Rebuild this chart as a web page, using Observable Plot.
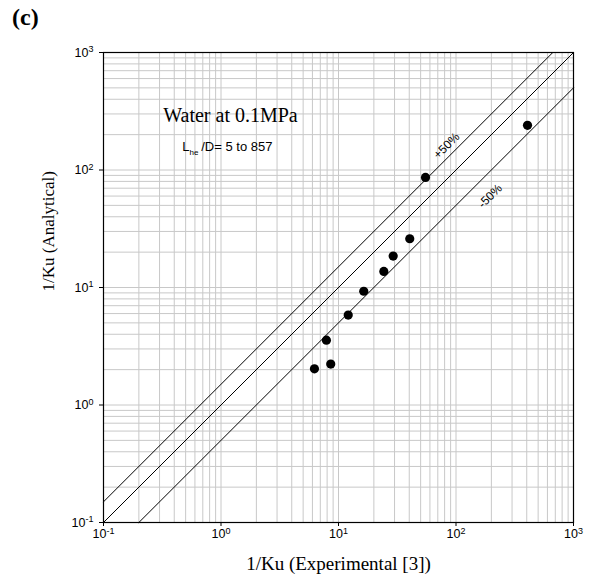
<!DOCTYPE html>
<html><head><meta charset="utf-8">
<script src="https://cdn.jsdelivr.net/npm/d3@7"></script>
<script src="https://cdn.jsdelivr.net/npm/@observablehq/plot@0.6"></script>
<style>
body{margin:0;background:#fff;}
#wrap{position:relative;width:595px;height:584px;}
#panel{position:absolute;left:12px;top:4px;font-family:"Liberation Serif","Times New Roman",serif;font-weight:bold;font-size:24px;}
</style></head><body>
<div id="wrap"><div id="panel">(c)</div></div>
<script>
// data
const experimental = [6.24, 8.59, 7.89, 12.1, 16.4, 24.3, 29.2, 40.4, 55.0, 406];
const analytical   = [2.03, 2.23, 3.56, 5.82, 9.29, 13.7, 18.5, 26.0, 86.5, 240];

// axis ticks
const axisTicks = [0.1, 1, 10, 100, 1000];
const tickExponents = ["-1", "0", "1", "2", "3"];
const decades = [0.1, 1, 10, 100];
const multipliers = [1, 2, 3, 4, 5, 6, 7, 8, 9];

// reference lines (ratio of analytical / experimental)
const bandRatios = [1.5, 1, 0.5];
const bandLabels = ["+50%", "-50%"];
const bandLabelX = [83, 195];
const bandLabelY = [161, 60];

// annotations
const title1 = "Water at 0.1MPa";
const noteMain = "L", noteSub = "he", noteRest = "/D= 5 to 857";

const domain = [0.1, 1000];
const gridVals = decades.flatMap(d => multipliers.map(m => d * m)).concat([1000]);
const points = experimental.map((x, i) => ({x, y: analytical[i]}));
const linePts = bandRatios.flatMap(r => {
  const x0 = Math.max(domain[0], domain[0] / r), x1 = Math.min(domain[1], domain[1] / r);
  return [{r, x: x0, y: r * x0}, {r, x: x1, y: r * x1}];
});
const labelData = bandLabels.map((t, i) => ({t, x: bandLabelX[i], y: bandLabelY[i]}));
const expOf = new Map(axisTicks.map((v, i) => [v, tickExponents[i]]));
const fmt = v => "10^" + expOf.get(v);

const serif = "'Liberation Serif','Times New Roman',serif";
const sans = "'Liberation Sans',Arial,sans-serif";

const chart = Plot.plot({
  width: 595, height: 584,
  marginLeft: 103, marginRight: 22, marginTop: 52, marginBottom: 62,
  style: {fontFamily: sans, fontSize: "12px", background: "white"},
  x: {type: "log", domain, label: null},
  y: {type: "log", domain, label: null},
  marks: [
    Plot.ruleX(gridVals, {stroke: "#c8c8c8", strokeWidth: 1}),
    Plot.ruleY(gridVals, {stroke: "#c8c8c8", strokeWidth: 1}),
    Plot.line(linePts, {x: "x", y: "y", z: "r", stroke: "black", strokeWidth: 1}),
    Plot.dot(points, {x: "x", y: "y", r: 4.6, fill: "black", stroke: null}),
    Plot.frame({stroke: "black", strokeWidth: 1.2}),
    Plot.axisX(axisTicks, {tickFormat: fmt, tickSize: 4, tickPadding: 3, fontSize: 12, label: null}),
    Plot.axisY(axisTicks, {tickFormat: fmt, tickSize: 4, tickPadding: 6, fontSize: 12, label: null}),
    Plot.text(labelData, {x: "x", y: "y", text: "t", rotate: -45, fontSize: 12, fontFamily: sans}),
    Plot.text([title1], {x: () => 0.3225, y: () => 290, text: d => d, textAnchor: "start", fontSize: 20, fontFamily: serif}),
    Plot.text([noteMain], {x: () => 0.468, y: () => 156, text: d => d, textAnchor: "start", fontSize: 13, fontFamily: sans}),
    Plot.text([noteSub], {x: () => 0.468, y: () => 156, text: d => d, textAnchor: "start", dx: 7.3, dy: 5, fontSize: 8, fontFamily: sans}),
    Plot.text([noteRest], {x: () => 0.468, y: () => 156, text: d => d, textAnchor: "start", dx: 19, fontSize: 13, fontFamily: sans}),
    Plot.text(["1/Ku (Experimental [3])"], {frameAnchor: "bottom", dy: 47, text: d => d, fontSize: 19, fontFamily: serif}),
    Plot.text(["1/Ku (Analytical)"], {frameAnchor: "left", dx: -54.5, dy: 4, rotate: -90, text: d => d, fontSize: 17, fontFamily: serif})
  ]
});

// render exponents as superscripts
chart.querySelectorAll("text").forEach(t => {
  const m = t.textContent.match(/^10\^(-?\d+)$/);
  if (!m) return;
  t.textContent = "10";
  t.style.fontSize = "12.5px";
  t.style.fontFamily = sans;
  const s = document.createElementNS("http://www.w3.org/2000/svg", "tspan");
  s.setAttribute("dy", "-0.45em");
  s.style.fontSize = "9px";
  s.textContent = m[1];
  t.appendChild(s);
});
document.getElementById("wrap").appendChild(chart);
chart.style.position = "absolute";
chart.style.left = "0";
chart.style.top = "0";
document.getElementById("wrap").appendChild(document.getElementById("panel"));
</script>
</body></html>
